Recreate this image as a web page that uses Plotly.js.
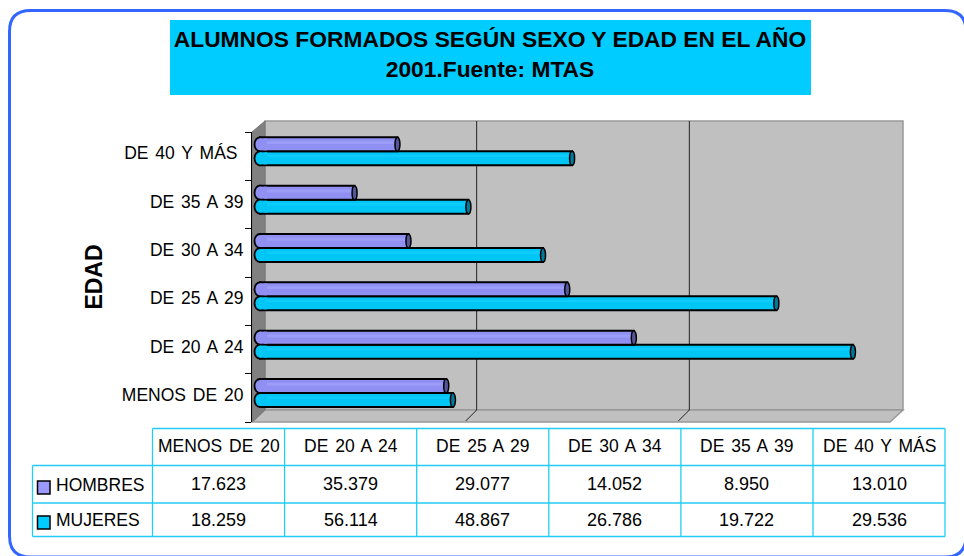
<!DOCTYPE html>
<html>
<head>
<meta charset="utf-8">
<script src="https://cdn.plot.ly/plotly-3.0.1.min.js"></script>
<style>html,body{margin:0;padding:0;background:#fff;overflow:hidden}#chart{width:964px;height:556px}
.ytick text,.annotation-text{word-spacing:2px}</style>
</head>
<body>
<div id="chart"></div>
<script>
const categories = ["MENOS DE 20","DE 20 A 24","DE 25 A 29","DE 30 A 34","DE 35 A 39","DE 40 Y MÁS"];
const hombres = [17623,35379,29077,14052,8950,13010];
const mujeres = [18259,56114,48867,26786,19722,29536];
const hombresText = ["17.623","35.379","29.077","14.052","8.950","13.010"];
const mujeresText = ["18.259","56.114","48.867","26.786","19.722","29.536"];
const gridValues = [20000,40000,60000];
const titleText = "ALUMNOS FORMADOS SEGÚN SEXO Y EDAD EN EL AÑO<br>2001.Fuente: MTAS";

const W=964,H=556,FONT='"Liberation Sans",Arial,sans-serif';
const px=x=>x/W, py=y=>1-y/H;
const CY='#00CCFF',LIL='#9999FF';
const shapes=[],ann=[];
const poly=(pts,fill,line,lw,layer)=>shapes.push({type:'path',xref:'paper',yref:'paper',layer:layer||'below',
  path:'M'+pts.map(p=>px(p[0])+','+py(p[1])).join(' L')+' Z',fillcolor:fill,line:{color:line,width:lw}});
const seg=(x0,y0,x1,y1,c,w)=>shapes.push({type:'line',xref:'paper',yref:'paper',layer:'below',x0:px(x0),y0:py(y0),x1:px(x1),y1:py(y1),line:{color:c,width:w}});

// outer rounded frame
const L=9.5,T=10.5,R=966,B=557,r=21;
shapes.push({type:'path',xref:'paper',yref:'paper',layer:'below',fillcolor:'rgba(0,0,0,0)',line:{color:'#3366FF',width:3},
 path:`M${px(L+r)},${py(T)} L${px(R-r)},${py(T)} Q${px(R)},${py(T)} ${px(R)},${py(T+r)} L${px(R)},${py(B-r)} Q${px(R)},${py(B)} ${px(R-r)},${py(B)} L${px(L+r)},${py(B)} Q${px(L)},${py(B)} ${px(L)},${py(B-r)} L${px(L)},${py(T+r)} Q${px(L)},${py(T)} ${px(L+r)},${py(T)} Z`});
// title box
poly([[170,20],[811,20],[811,95],[170,95]],CY,CY,0);
// 3D walls
poly([[265,121],[903,121],[903,410],[265,410]],'#C0C0C0','#999999',1.5);
poly([[252,422],[265,410],[903,410],[890,422]],'#C0C0C0','#999999',1.5);
poly([[252,132],[265,121],[265,410],[252,422]],'#808080','#777777',1);
// grid lines on back wall and ticks on the floor
gridValues.forEach(v=>{
  const xb=265+v*638/60000-1;
  if(v<60000){seg(xb,121,xb,410,'#222222',1);seg(xb,410,xb-11,421,'#222222',1);}
});
// table
const colX=[152.5,284.6,416.7,548.8,680.9,813,945];
const TC='#22CCF5';
colX.forEach(x=>seg(x,428.5,x,536.5,TC,1.3));
seg(32.5,465.5,32.5,536.5,TC,1.3);
seg(152.5,428.5,945,428.5,TC,1.3);
seg(32.5,465.5,945,465.5,TC,1.3);
seg(32.5,503,945,503,TC,1.3);
seg(32.5,536.5,945,536.5,TC,1.3);
const txt=(t,x,y,size,anchor)=>ann.push({text:t,x:px(x),y:py(y),xref:'paper',yref:'paper',showarrow:false,xanchor:anchor||'center',yanchor:'middle',font:{family:FONT,size:size,color:'#000'}});
categories.forEach((c,i)=>{
  const cx=(colX[i]+colX[i+1])/2;
  txt(c,cx,446,17.5);
  txt(hombresText[i],cx,484,18);
  txt(mujeresText[i],cx,519.5,18);
});
txt('HOMBRES',53.5,484.5,17.5,'left');
txt('MUJERES',53.5,520,17.5,'left');
poly([[37.5,481],[50,481],[50,494],[37.5,494]],LIL,'#000',1.5);
poly([[37.5,516],[50,516],[50,529],[37.5,529]],CY,'#000',1.5);

// bar geometry in data units
const WID=0.29, OFF_H=0.10, OFF_M=-0.19;
const PXU=1/0.010567;
const barDeco=(vals,off,fill,cap)=>vals.forEach((v,i)=>{
  const y0=i+off,y1=i+off+WID;
  shapes.push({type:'circle',xref:'x',yref:'y',layer:'above',x0:-5.5*PXU,x1:5.5*PXU,y0:y0,y1:y1,fillcolor:fill,line:{color:'#000',width:1.8}});
  shapes.push({type:'rect',xref:'x',yref:'y',layer:'above',x0:0,x1:7*PXU,y0:y0+0.02,y1:y1-0.02,fillcolor:fill,line:{width:0}});
  shapes.push({type:'circle',xref:'x',yref:'y',layer:'above',x0:v-2.5*PXU,x1:v+2.5*PXU,y0:y0,y1:y1,fillcolor:cap,line:{color:'#000',width:1.5}});
});
barDeco(hombres,OFF_H,'#9090F2','#55559A');
barDeco(mujeres,OFF_M,'#00C6F6','#007A9A');

const bar=(name,vals,off,w,color,lw)=>({type:'bar',orientation:'h',name:name,y:categories,x:vals,base:0,
  offset:off,width:w,marker:{color:color,line:{color:'#000',width:lw}},showlegend:false,hoverinfo:lw?'x+y+name':'skip'});
const data=[
  bar('MUJERES',mujeres,OFF_M,WID,'#00C6F6',2),
  bar('HOMBRES',hombres,OFF_H,WID,'#9090F2',2),
  bar('',mujeres,OFF_M+0.17,0.05,'#10CCFA',0),
  bar('',hombres,OFF_H+0.15,0.06,'#9C9CFA',0)
];

const layout={
  width:W,height:H,margin:{l:0,r:0,t:0,b:0,pad:0},autosize:false,
  paper_bgcolor:'#fff',plot_bgcolor:'rgba(0,0,0,0)',barmode:'overlay',
  title:{text:titleText,x:490/W,xref:'container',xanchor:'center',y:py(47),yref:'container',yanchor:'middle',
    font:{family:FONT,size:22.8,color:'#000',weight:'bold'}},
  xaxis:{domain:[px(252),px(894)],range:[-757,60000],visible:false,showgrid:false,zeroline:false,fixedrange:true},
  yaxis:{domain:[py(422),py(132)],type:'category',categoryorder:'array',categoryarray:categories,range:[-0.5,5.5],
    tickson:'boundaries',ticks:'outside',ticklen:6,tickwidth:1,tickcolor:'#000',showline:true,linecolor:'#000',linewidth:1,
    showgrid:false,zeroline:false,ticklabelshift:-3,ticklabelstandoff:4,fixedrange:true,automargin:false,
    tickfont:{family:FONT,size:17.5,color:'#000'},
    title:{text:'EDAD',standoff:12,font:{family:FONT,size:23,color:'#000',weight:'bold'}}},
  shapes:shapes,annotations:ann
};
Plotly.newPlot('chart',data,layout,{displayModeBar:false,staticPlot:true}).then(gd=>{
  document.querySelectorAll('.ytick text').forEach(t=>{ if(t.textContent==='DE 40 Y MÁS') t.setAttribute('dx','-6'); });
});
</script>
</body>
</html>
